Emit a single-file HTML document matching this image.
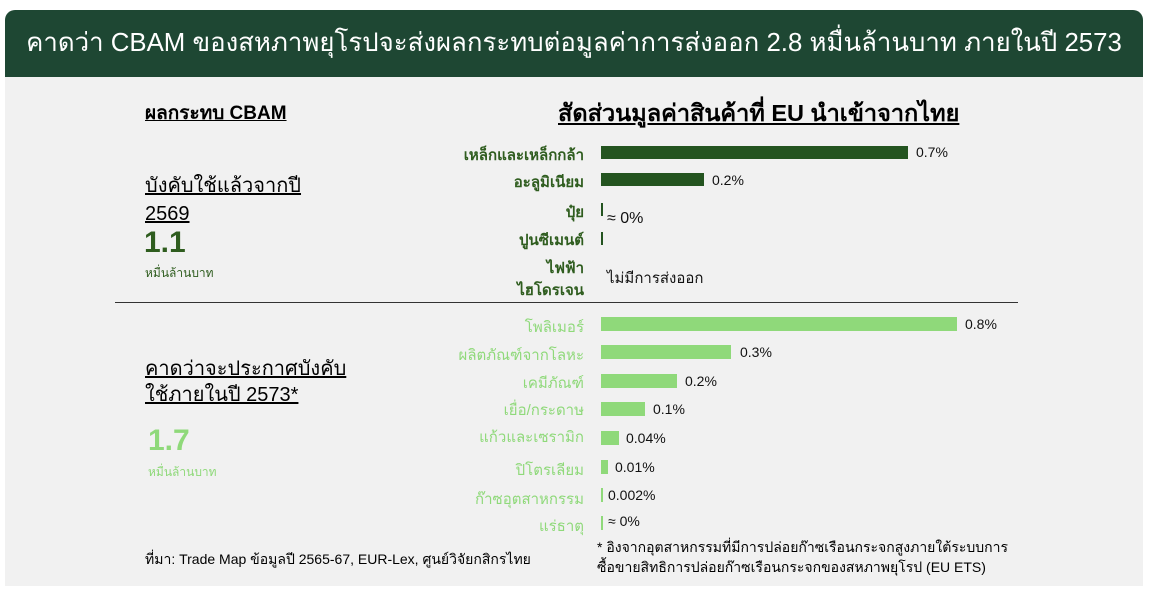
<!DOCTYPE html>
<html><head><meta charset="utf-8"><style>
body{margin:0;width:1153px;height:593px;background:#fff;font-family:"Liberation Sans","Noto Sans CJK SC",sans-serif;position:relative;overflow:hidden}
.bg{position:absolute;left:5px;top:10px;width:1138px;height:576px;background:#f1f1f1;border-radius:10px 10px 0 0}
.hd{position:absolute;left:5px;top:10px;width:1138px;height:67px;background:#1e4733;border-radius:10px 10px 0 0;color:#fff;font-size:25.8px;line-height:67px;text-align:center;white-space:nowrap}
.a{position:absolute;white-space:nowrap}
.lab{position:absolute;right:569px;font-size:15px;text-align:right;white-space:nowrap}
.d{color:#2f5d1f;font-weight:bold}
.l{color:#8fd97a}
.bar{position:absolute;left:601px}
.db{background:#245420}.lb{background:#8fd97a}
.v{position:absolute;font-size:14px;color:#111;white-space:nowrap}
</style></head><body>
<div class="bg"></div>
<div class="hd">คาดว่า CBAM ของสหภาพยุโรปจะส่งผลกระทบต่อมูลค่าการส่งออก 2.8 หมื่นล้านบาท ภายในปี 2573</div>
<div class="a" style="left:145px;top:98px;font-size:19px;font-weight:bold;text-decoration:underline">ผลกระทบ CBAM</div>
<div class="a" style="left:558px;top:95px;font-size:23.5px;font-weight:bold;text-decoration:underline">สัดส่วนมูลค่าสินค้าที่ EU นำเข้าจากไทย</div>
<div class="a" style="left:145px;top:172px;font-size:20px;line-height:28px;text-decoration:underline">บังคับใช้แล้วจากปี<br>2569</div>
<div class="a" style="left:144px;top:226px;font-size:30px;font-weight:bold;color:#2f5d1f">1.1</div>
<div class="a" style="left:145px;top:264px;font-size:12px;color:#2f5d1f">หมื่นล้านบาท</div>
<div class="a" style="left:115px;top:302px;width:903px;height:1px;background:#333"></div>
<div class="a" style="left:145px;top:356px;font-size:20px;line-height:26px;text-decoration:underline">คาดว่าจะประกาศบังคับ<br>ใช้ภายในปี 2573*</div>
<div class="a" style="left:148px;top:424px;font-size:30px;font-weight:bold;color:#8fd97a">1.7</div>
<div class="a" style="left:148px;top:463px;font-size:12px;color:#8fd97a">หมื่นล้านบาท</div>

<div class="lab d" style="top:143px">เหล็กและเหล็กกล้า</div>
<div class="lab d" style="top:170px">อะลูมิเนียม</div>
<div class="lab d" style="top:200px">ปุ๋ย</div>
<div class="lab d" style="top:228px">ปูนซีเมนต์</div>
<div class="lab d" style="top:258px;line-height:22px">ไฟฟ้า<br>ไฮโดรเจน</div>
<div class="bar db" style="top:146px;width:307px;height:13px"></div><div class="v" style="left:916px;top:144px">0.7%</div>
<div class="bar db" style="top:173px;width:103px;height:13px"></div><div class="v" style="left:712px;top:172px">0.2%</div>
<div class="bar db" style="top:203px;width:2px;height:13px"></div>
<div class="bar db" style="top:232px;width:2px;height:13px"></div>
<div class="v" style="left:607px;top:210px;font-size:16px">≈ 0%</div>
<div class="v" style="left:607px;top:266px;font-size:15px">ไม่มีการส่งออก</div>

<div class="lab l" style="top:315px">โพลิเมอร์</div>
<div class="lab l" style="top:343px">ผลิตภัณฑ์จากโลหะ</div>
<div class="lab l" style="top:371px">เคมีภัณฑ์</div>
<div class="lab l" style="top:398px">เยื่อ/กระดาษ</div>
<div class="lab l" style="top:425px">แก้วและเซรามิก</div>
<div class="lab l" style="top:458px">ปิโตรเลียม</div>
<div class="lab l" style="top:487px">ก๊าซอุตสาหกรรม</div>
<div class="lab l" style="top:514px">แร่ธาตุ</div>
<div class="bar lb" style="top:317px;width:356px;height:14px"></div><div class="v" style="left:965px;top:316px">0.8%</div>
<div class="bar lb" style="top:345px;width:130px;height:14px"></div><div class="v" style="left:740px;top:344px">0.3%</div>
<div class="bar lb" style="top:374px;width:76px;height:14px"></div><div class="v" style="left:685px;top:373px">0.2%</div>
<div class="bar lb" style="top:402px;width:44px;height:14px"></div><div class="v" style="left:653px;top:401px">0.1%</div>
<div class="bar lb" style="top:431px;width:18px;height:14px"></div><div class="v" style="left:626px;top:430px">0.04%</div>
<div class="bar lb" style="top:460px;width:7px;height:14px"></div><div class="v" style="left:615px;top:459px">0.01%</div>
<div class="bar lb" style="top:488px;width:2px;height:14px"></div><div class="v" style="left:608px;top:487px">0.002%</div>
<div class="bar lb" style="top:516px;width:2px;height:14px"></div><div class="v" style="left:608px;top:513px">≈ 0%</div>

<div class="a" style="left:145px;top:549px;font-size:14px">ที่มา: Trade Map ข้อมูลปี 2565-67, EUR-Lex, ศูนย์วิจัยกสิกรไทย</div>
<div class="a" style="left:597px;top:537px;font-size:14px;line-height:20px">* อิงจากอุตสาหกรรมที่มีการปล่อยก๊าซเรือนกระจกสูงภายใต้ระบบการ<br>ซื้อขายสิทธิการปล่อยก๊าซเรือนกระจกของสหภาพยุโรป (EU ETS)</div>
</body></html>
